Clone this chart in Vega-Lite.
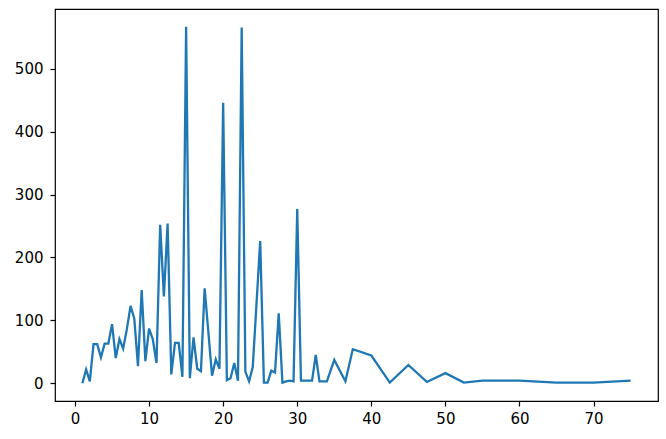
{
  "$schema": "https://vega.github.io/schema/vega-lite/v6.json",
  "width": 603,
  "height": 392,
  "autosize": {"type": "none"},
  "padding": {"left": 55, "top": 9, "right": 8, "bottom": 38},
  "background": "white",
  "config": {
    "view": {"stroke": "#000000", "strokeWidth": 1.2},
    "axis": {
      "grid": false,
      "domain": false,
      "title": null,
      "tickColor": "#000000",
      "tickSize": 5,
      "tickWidth": 1.2,
      "labelFont": "DejaVu Sans",
      "labelFontSize": 15,
      "labelColor": "#000000",
      "labelPadding": 5
    }
  },
  "data": {
    "values": [
      {"x": 1, "y": 0}, {"x": 1.5, "y": 22}, {"x": 2, "y": 3}, {"x": 2.5, "y": 62},
      {"x": 3, "y": 62}, {"x": 3.5, "y": 41}, {"x": 4, "y": 63}, {"x": 4.5, "y": 63},
      {"x": 5, "y": 94}, {"x": 5.5, "y": 40}, {"x": 6, "y": 70}, {"x": 6.5, "y": 55},
      {"x": 7, "y": 86}, {"x": 7.5, "y": 123}, {"x": 8, "y": 103}, {"x": 8.5, "y": 27},
      {"x": 9, "y": 148}, {"x": 9.5, "y": 35}, {"x": 10, "y": 87}, {"x": 10.5, "y": 70},
      {"x": 11, "y": 32}, {"x": 11.5, "y": 252}, {"x": 12, "y": 138}, {"x": 12.5, "y": 254},
      {"x": 13, "y": 14}, {"x": 13.5, "y": 64}, {"x": 14, "y": 64}, {"x": 14.5, "y": 10},
      {"x": 15, "y": 567}, {"x": 15.5, "y": 8}, {"x": 16, "y": 73}, {"x": 16.5, "y": 23},
      {"x": 17, "y": 19}, {"x": 17.5, "y": 151}, {"x": 18.5, "y": 12}, {"x": 19, "y": 38},
      {"x": 19.5, "y": 23}, {"x": 20, "y": 446}, {"x": 20.5, "y": 5}, {"x": 21, "y": 8},
      {"x": 21.5, "y": 32}, {"x": 22, "y": 4}, {"x": 22.5, "y": 566}, {"x": 23, "y": 18},
      {"x": 23.5, "y": 3}, {"x": 24, "y": 26}, {"x": 25, "y": 226}, {"x": 25.5, "y": 1},
      {"x": 26, "y": 1}, {"x": 26.5, "y": 20}, {"x": 27, "y": 17}, {"x": 27.5, "y": 111},
      {"x": 28, "y": 1}, {"x": 28.5, "y": 3}, {"x": 29, "y": 4}, {"x": 29.5, "y": 3},
      {"x": 30, "y": 277}, {"x": 30.5, "y": 4}, {"x": 31, "y": 4}, {"x": 31.5, "y": 4},
      {"x": 32, "y": 4}, {"x": 32.5, "y": 45}, {"x": 33, "y": 3}, {"x": 34, "y": 3},
      {"x": 35, "y": 37}, {"x": 36.5, "y": 3}, {"x": 37.5, "y": 54}, {"x": 40, "y": 44},
      {"x": 42.5, "y": 1}, {"x": 45, "y": 29}, {"x": 47.5, "y": 2}, {"x": 50, "y": 16},
      {"x": 52.5, "y": 1}, {"x": 55, "y": 4}, {"x": 60, "y": 4}, {"x": 65, "y": 1},
      {"x": 70, "y": 1}, {"x": 75, "y": 4}
    ]
  },
  "mark": {"type": "line", "color": "#1f77b4", "strokeWidth": 2.3},
  "encoding": {
    "x": {
      "field": "x",
      "type": "quantitative",
      "scale": {"domain": [-2.7, 78.7], "nice": false, "zero": false},
      "axis": {"values": [0, 10, 20, 30, 40, 50, 60, 70], "format": "d"}
    },
    "y": {
      "field": "y",
      "type": "quantitative",
      "scale": {"domain": [-28.35, 595.35], "nice": false, "zero": false},
      "axis": {"values": [0, 100, 200, 300, 400, 500], "format": "d", "labelPadding": 7}
    }
  }
}
